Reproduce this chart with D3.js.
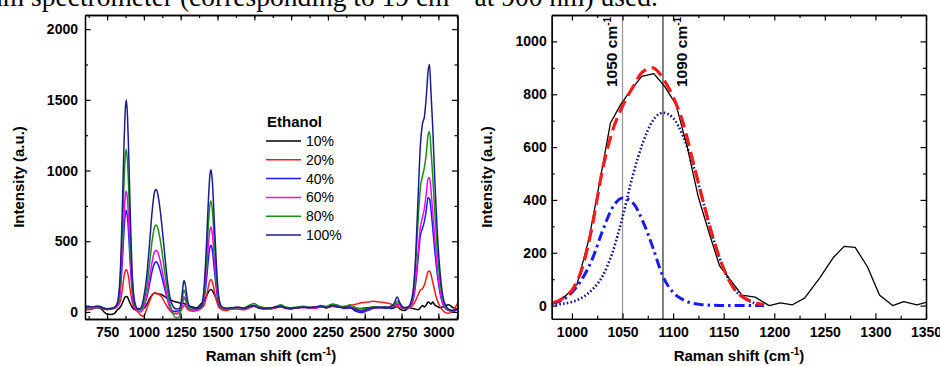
<!DOCTYPE html>
<html><head><meta charset="utf-8">
<script src="https://cdnjs.cloudflare.com/ajax/libs/d3/7.8.5/d3.min.js"></script>
<style>body{margin:0;background:#fff}svg{display:block}</style>
</head><body>
<svg id="c" width="940" height="366"></svg>
<script>
// ---------- LEFT CHART DATA (Raman shift, cm-1) ----------
const leftShift = [
  600,625,650,675,700,725,750,775,800,820,
  840,855,865,872,880,888,895,905,920,940,
  960,980,1000,1020,1040,1055,1065,1075,1085,1095,1110,1125,1140,1160,1180,1200,
  1220,1240,1252,1262,1272,1282,1295,1310,1330,1360,
  1390,1410,1425,1438,1448,1456,1465,1478,1492,1508,1530,1560,
  1600,1640,1680,1720,1750,1780,1820,1860,1900,1930,1960,2000,2040,2080,2120,2160,2200,2240,2280,2320,2360,2400,2440,2480,2520,2560,2600,2640,2680,
  2700,2720,2740,2770,2800,2825,2845,2862,2878,2892,2905,2918,2930,2940,2950,2962,2975,2990,3010,3040,3070,3100,3130
];
const ethanol10 = [
  25,20,25,30,28,5,-15,-18,-10,15,
  35,65,90,105,110,105,90,65,35,15,
  25,20,25,55,95,120,130,135,130,128,125,120,110,95,85,75,
  70,65,60,62,60,55,50,40,35,30,
  60,80,110,140,155,158,150,125,90,50,30,25,
  25,30,25,35,40,30,25,25,35,40,30,25,30,35,30,30,35,30,40,35,30,30,25,25,30,35,30,35,25,
  30,40,20,10,30,25,20,15,30,45,35,50,70,65,55,70,50,40,30,40,50,30,20
];
const ethanol20 = [
  20,15,20,35,30,20,15,20,25,40,
  75,170,250,285,300,285,250,170,75,20,
  0,-25,-30,25,80,115,128,135,133,128,118,100,70,35,5,-10,
  -10,-5,10,30,45,40,20,10,5,10,
  25,50,110,180,222,230,212,150,85,35,15,10,
  20,20,15,30,40,25,20,20,30,35,25,25,30,35,30,35,35,30,40,35,40,45,55,65,70,75,70,65,55,
  40,35,30,25,30,45,80,120,155,165,190,240,285,290,265,210,150,90,40,0,-10,10,60
];
const ethanol40 = [
  45,35,30,38,35,25,22,25,30,45,
  150,385,575,675,720,675,575,385,150,30,
  20,15,45,105,205,285,325,348,355,340,295,235,170,85,25,5,
  5,10,25,65,98,85,40,20,15,20,
  30,95,225,370,455,472,435,305,165,55,25,20,
  30,25,25,40,45,30,25,25,35,45,30,20,30,35,30,30,40,35,55,45,25,30,5,-5,10,25,30,25,30,
  35,55,45,25,35,70,190,370,540,590,640,720,810,800,720,590,440,290,140,35,10,5,15
];
const ethanol60 = [
  20,25,30,35,35,25,20,20,30,40,
  170,450,680,800,855,800,680,450,170,35,
  10,0,35,120,250,350,400,430,437,420,365,290,205,100,20,-10,
  -15,-5,20,70,108,90,45,20,15,15,
  30,115,285,470,575,600,550,385,205,70,25,20,
  20,25,20,35,45,30,20,20,35,45,30,25,30,30,30,25,35,35,45,40,30,35,20,5,15,30,30,30,35,
  40,60,45,30,35,80,220,420,600,670,730,840,940,950,860,700,530,340,160,40,10,5,20
];
const ethanol80 = [
  25,30,30,38,40,30,25,25,35,60,
  230,610,915,1075,1150,1075,915,610,230,50,
  15,15,70,180,355,495,565,608,615,590,515,410,295,150,45,-20,
  -42,-35,20,100,155,130,60,25,20,20,
  35,150,370,615,755,785,720,505,270,90,30,25,
  25,30,30,50,60,40,30,25,40,50,35,30,35,40,35,30,45,40,55,45,35,50,30,20,25,35,30,30,35,
  45,75,50,30,40,110,330,640,880,960,1020,1120,1250,1275,1150,950,720,470,230,60,15,10,30
];
const ethanol100 = [
  30,40,35,40,38,25,20,22,30,65,
  290,790,1190,1400,1500,1400,1190,790,290,60,
  20,30,108,260,504,700,800,857,865,830,725,582,420,220,90,35,
  20,25,60,150,222,190,90,40,30,25,
  40,190,474,787,964,1005,923,644,344,110,35,25,
  30,35,25,40,45,30,25,30,35,40,30,25,30,35,30,35,40,30,45,35,30,35,15,5,20,30,35,30,40,
  60,105,60,30,40,120,380,800,1180,1330,1380,1520,1700,1750,1550,1300,950,620,300,70,20,10,25
];
const legendLabels = ["10%","20%","40%","60%","80%","100%"];
const leftXTicks = [750,1000,1250,1500,1750,2000,2250,2500,2750,3000];
const leftYTicks = [0,500,1000,1500,2000];

// ---------- RIGHT CHART DATA ----------
const measShift = [982,994,1005,1017,1028,1038,1048,1058,1069,1081,1092,1103,1114,1125,1136,1146,1157,1168,1181,1195,1206,1218,1230,1245,1258,1269,1280,1292,1304,1317,1328,1341,1350];
const measIntensity = [8,38,80,255,480,690,760,815,868,878,828,760,600,410,270,150,95,40,32,0,10,3,28,105,180,224,220,148,40,0,15,3,12];
const fitShift = [980,990,1000,1010,1020,1030,1040,1050,1060,1070,1080,1090,1100,1110,1120,1130,1140,1150,1160,1170,1180,1190];
const fitTotal = [10,25,58,140,300,510,660,755,825,885,900,860,790,690,540,390,250,140,65,30,12,3];
const fitPeak1050 = [8,20,50,100,175,280,370,407,390,320,220,110,50,22,8,3,1,0,0,0,0,0];
const fitPeak1090 = [3,6,14,30,60,110,200,335,490,615,700,730,710,640,530,390,250,140,65,28,10,3];
const markerLines = [1050,1090];
const rightXTicks = [1000,1050,1100,1150,1200,1250,1300,1350];
const rightYTicks = [0,200,400,600,800,1000];

// ---------- DRAWING ----------
const svg = d3.select("#c");
const SANS = "'Liberation Sans', Arial, sans-serif";

// clipped caption text at top
const cap = svg.append("text").attr("x",-11).attr("y",5.5)
  .attr("font-family","'Liberation Serif','Times New Roman',serif").attr("font-size",27.5).attr("fill","#000");
cap.append("tspan").text("nm spectrometer (corresponding to 19 cm");
cap.append("tspan").attr("font-size",17).attr("dy",-10).text("−1");
cap.append("tspan").attr("dy",10).text(" at 900 nm) used.");

function frame(g, x, y, xMajor, xMinor, yMajor, yMinor, xPad, yPad) {
  const [x0,x1] = x.range(), [y0,y1] = y.range();
  const style = sel => {
    sel.selectAll("path.domain").attr("stroke","#000").attr("stroke-width",1.3);
    sel.selectAll(".tick line").attr("stroke","#000").attr("stroke-width",1.2);
    sel.selectAll("text").attr("font-family",SANS).attr("font-weight","bold").attr("font-size",14).attr("fill","#000");
  };
  g.append("g").attr("transform",`translate(0,${y0})`)
    .call(d3.axisBottom(x).tickValues(xMinor).tickSize(-3).tickSizeOuter(0).tickFormat("")).call(style);
  g.append("g").attr("transform",`translate(0,${y0})`)
    .call(d3.axisBottom(x).tickValues(xMajor).tickSize(-5.5).tickSizeOuter(0).tickPadding(xPad).tickFormat(d3.format("d"))).call(style);
  g.append("g").attr("transform",`translate(0,${y1})`)
    .call(d3.axisTop(x).tickValues(xMinor).tickSize(-3).tickSizeOuter(0).tickFormat("")).call(style);
  g.append("g").attr("transform",`translate(0,${y1})`)
    .call(d3.axisTop(x).tickValues(xMajor).tickSize(-5.5).tickSizeOuter(0).tickFormat("")).call(style);
  g.append("g").attr("transform",`translate(${x0},0)`)
    .call(d3.axisLeft(y).tickValues(yMinor).tickSize(-3).tickSizeOuter(0).tickFormat("")).call(style);
  g.append("g").attr("transform",`translate(${x0},0)`)
    .call(d3.axisLeft(y).tickValues(yMajor).tickSize(-5.5).tickSizeOuter(0).tickPadding(yPad).tickFormat(d3.format("d"))).call(style);
  g.append("g").attr("transform",`translate(${x1},0)`)
    .call(d3.axisRight(y).tickValues(yMinor).tickSize(-3).tickSizeOuter(0).tickFormat("")).call(style);
  g.append("g").attr("transform",`translate(${x1},0)`)
    .call(d3.axisRight(y).tickValues(yMajor).tickSize(-5.5).tickSizeOuter(0).tickFormat("")).call(style);
}

function axisTitles(g, cx, yTitleX) {
  const t = g.append("text").attr("x",cx).attr("y",361).attr("text-anchor","middle")
    .attr("font-family",SANS).attr("font-weight","bold").attr("font-size",15);
  t.append("tspan").text("Raman shift (cm");
  t.append("tspan").attr("font-size",10).attr("dy",-6).text("-1");
  t.append("tspan").attr("dy",6).text(")");
  g.append("text").attr("transform",`translate(${yTitleX},177) rotate(-90)`).attr("text-anchor","middle")
    .attr("font-family",SANS).attr("font-weight","bold").attr("font-size",15).text("Intensity (a.u.)");
}

// ---- Left chart ----
const xL = d3.scaleLinear().domain([600,3130]).range([85,457.5]);
const yL = d3.scaleLinear().domain([-50,2100]).range([319,15]);
const gL = svg.append("g");
svg.append("clipPath").attr("id","clipL").append("rect").attr("x",85).attr("y",15).attr("width",372.5).attr("height",304);
const leftSeries = [ethanol10, ethanol20, ethanol40, ethanol60, ethanol80, ethanol100];
const leftColors = ["#000000","#ff1a1a","#1a1aff","#ff00ff","#159315","#1c1c8c"];
const lineL = d3.line().x((d,i)=>xL(leftShift[i])).y(d=>yL(d)).curve(d3.curveMonotoneX);
const gLines = gL.append("g").attr("clip-path","url(#clipL)");
leftSeries.forEach((s,k)=>{
  gLines.append("path").attr("d",lineL(s)).attr("fill","none").attr("stroke",leftColors[k]).attr("stroke-width",1.5).attr("stroke-linejoin","round");
});
frame(gL, xL, yL, leftXTicks, d3.range(625,3130,125), leftYTicks, d3.range(250,2100,500), 8, 7);
axisTitles(gL, 271, 24);
gL.append("text").attr("x",267).attr("y",127.3).attr("font-family",SANS).attr("font-weight","bold").attr("font-size",15).text("Ethanol");
legendLabels.forEach((lab,k)=>{
  const ly = 141 + k*18.8;
  gL.append("line").attr("x1",266).attr("x2",301).attr("y1",ly).attr("y2",ly).attr("stroke",leftColors[k]).attr("stroke-width",1.5);
  gL.append("text").attr("x",306).attr("y",ly+5).attr("font-family",SANS).attr("font-size",14).text(lab);
});

// ---- Right chart ----
const xR = d3.scaleLinear().domain([980,1350]).range([551.7,926]);
const yR = d3.scaleLinear().domain([-50,1100]).range([318.8,15]);
const gR = svg.append("g");
svg.append("clipPath").attr("id","clipR").append("rect").attr("x",551.7).attr("y",15).attr("width",374.3).attr("height",304);
const gRL = gR.append("g").attr("clip-path","url(#clipR)");
gRL.append("line").attr("x1",xR(markerLines[0])).attr("x2",xR(markerLines[0])).attr("y1",15).attr("y2",319).attr("stroke","#9a9a9a").attr("stroke-width",1.3);
gRL.append("line").attr("x1",xR(markerLines[1])).attr("x2",xR(markerLines[1])).attr("y1",15).attr("y2",319).attr("stroke","#000").attr("stroke-width",1);
const lineFit = arr => d3.line().x((d,i)=>xR(fitShift[i])).y(d=>yR(d)).curve(d3.curveMonotoneX)(arr);
gRL.append("path").attr("d",lineFit(fitPeak1090)).attr("fill","none").attr("stroke","#14148c").attr("stroke-width",2.6).attr("stroke-dasharray","1.6,2.2");
gRL.append("path").attr("d",lineFit(fitPeak1050)).attr("fill","none").attr("stroke","#1a1aff").attr("stroke-width",3).attr("stroke-dasharray","10,4,2.5,4");
const lineMeas = d3.line().x((d,i)=>xR(measShift[i])).y(d=>yR(d));
gRL.append("path").attr("d",lineMeas(measIntensity)).attr("fill","none").attr("stroke","#000").attr("stroke-width",1.3).attr("stroke-linejoin","round");
gRL.append("path").attr("d",lineFit(fitTotal)).attr("fill","none").attr("stroke","#ff1a1a").attr("stroke-width",3.2).attr("stroke-dasharray","13,6");
frame(gR, xR, yR, rightXTicks, d3.range(1025,1350,50), rightYTicks, d3.range(100,1100,200), 8, 5);
axisTitles(gR, 739, 492);
[[markerLines[0],616.7],[markerLines[1],686.5]].forEach(([v,bx])=>{
  const t = gR.append("text").attr("transform",`translate(${bx},87) rotate(-90)`)
    .attr("font-family",SANS).attr("font-weight","bold").attr("font-size",15.5);
  t.append("tspan").text(v+" cm");
  t.append("tspan").attr("font-size",10).attr("dy",-6).text("-1");
});
</script>
</body></html>
